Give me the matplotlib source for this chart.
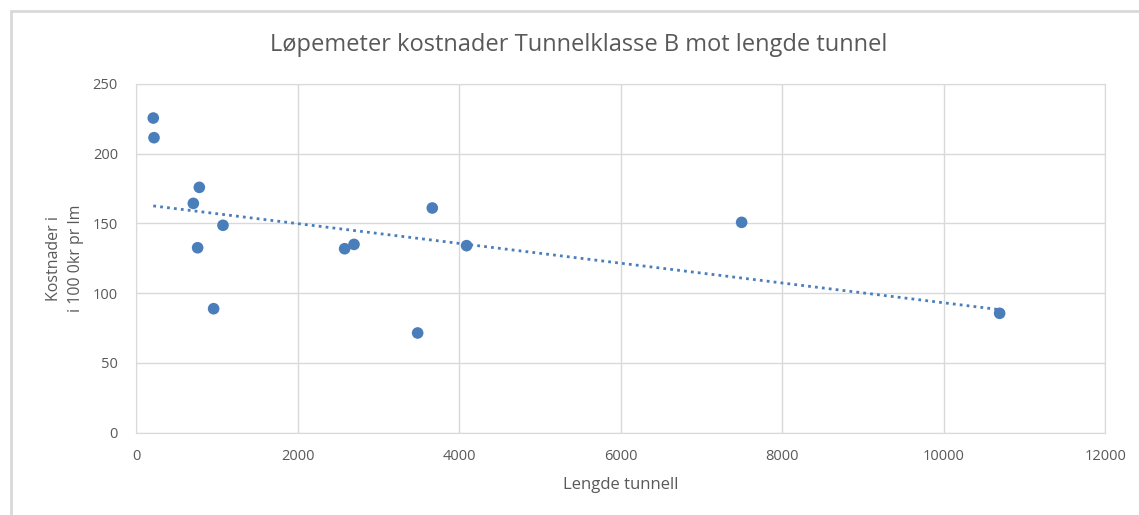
import matplotlib.pyplot as plt
import numpy as np
from matplotlib.patches import Rectangle

# Lengde tunnell (m) og kostnader (i 100 0kr pr lm)
lengde = [214, 223, 784, 710, 763, 1077, 961, 2583, 2699, 3487, 3668, 4093, 7498, 10692]
kostnad = [225.6, 211.5, 175.9, 164.4, 132.6, 148.7, 88.9, 131.9, 135.0, 71.5, 161.1, 134.1, 150.8, 85.6]

x_ticks = [0, 2000, 4000, 6000, 8000, 10000, 12000]
y_ticks = [0, 50, 100, 150, 200, 250]

blue = '#4A7EBB'
grey_txt = '#595959'
grid_col = '#D9D9D9'

plt.rcParams['font.family'] = ['Open Sans', 'DejaVu Sans']

fig = plt.figure(figsize=(11.39, 5.15), dpi=100)
ax = fig.add_axes([0.1194, 0.1598, 0.851, 0.6771])

# Ramme rundt diagrammet (kun topp og venstre synlig)
fig.patches.append(Rectangle((11 / 1139, -0.1), 1.2, 1 - 11 / 515 + 0.1,
                             transform=fig.transFigure, fill=False,
                             edgecolor='#D9D9D9', linewidth=2))

ax.scatter(lengde, kostnad, s=70, color=blue, zorder=3, edgecolors='none')

# Lineær trendlinje
x = np.array(lengde)
y = np.array(kostnad)
k, m = np.polyfit(x, y, 1)
xt = np.array([x.min(), x.max()])
ax.plot(xt, k * xt + m, linestyle=(0, (1, 1.5)), color=blue, linewidth=2, zorder=2)

ax.set_xlim(0, 12000)
ax.set_ylim(0, 250)
ax.set_xticks(x_ticks)
ax.set_yticks(y_ticks)
ax.grid(True, color=grid_col, linewidth=1)
ax.set_axisbelow(True)
for s in ax.spines.values():
    s.set_color(grid_col)
ax.tick_params(axis='y', length=0, labelsize=10.5, labelcolor=grey_txt, pad=13)
ax.tick_params(axis='x', length=0, labelsize=10.5, labelcolor=grey_txt, pad=12)

fig.text(579 / 1139, 1 - 45 / 515, 'Løpemeter kostnader Tunnelklasse B mot lengde tunnel',
         fontsize=17, color=grey_txt, ha='center', va='center')
ax.set_xlabel('Lengde tunnell', fontsize=12, color=grey_txt, labelpad=9)
ax.set_ylabel('Kostnader i\ni 100 0kr pr lm', fontsize=11.5, color=grey_txt,
              labelpad=6, linespacing=1.5)

fig.savefig('out.png', dpi=100)
